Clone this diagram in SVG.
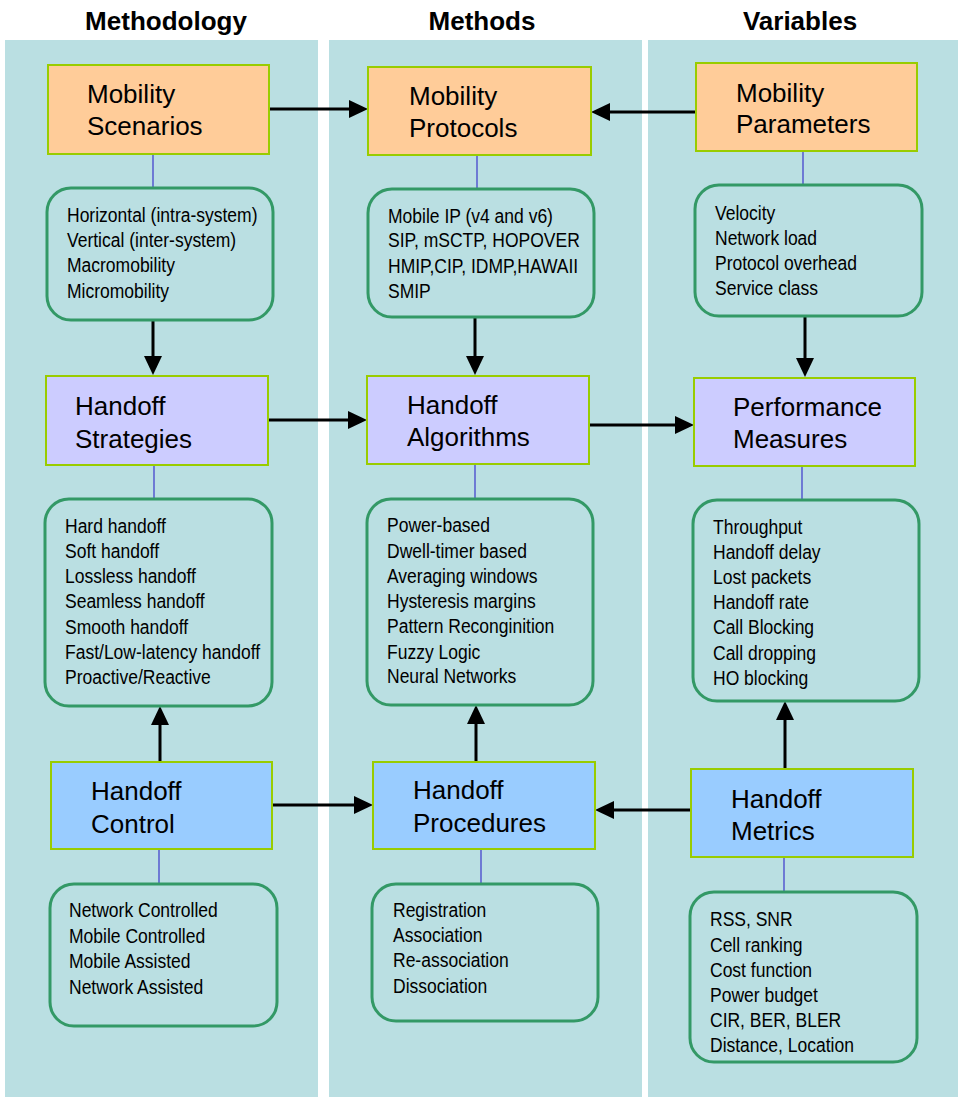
<svg xmlns="http://www.w3.org/2000/svg" width="958" height="1097" viewBox="0 0 958 1097">
  <style>
    .col { fill: #BADFE2; }
    .hdr { font-family: "Liberation Sans", Arial, sans-serif; font-weight: bold; font-size: 26px; text-anchor: middle; fill: #000; }
    .box { stroke: #99CC00; stroke-width: 2; }
    .peach { fill: #FFCC99; }
    .lav { fill: #CCCCFF; }
    .sky { fill: #99CCFF; }
    .title { font-family: "Liberation Sans", Arial, sans-serif; font-size: 26px; fill: #000; }
    .list { fill: none; stroke: #339966; stroke-width: 3; }
    .item { font-family: "Liberation Sans", Arial, sans-serif; font-size: 20px; fill: #000; }
    .tie { stroke: #4444CC; stroke-width: 1.3; fill: none; }
    .arrow { stroke: #000; stroke-width: 3; fill: none; marker-end: url(#ah); }
  </style>
  <defs>
    <marker id="ah" markerUnits="userSpaceOnUse" markerWidth="20" markerHeight="20" refX="12" refY="9" orient="auto">
      <path d="M0,0 L19,9 L0,18 z" fill="#000"/>
    </marker>
  </defs>

  <!-- column backgrounds -->
  <g id="columns">
    <rect class="col" x="5" y="40" width="313" height="1057"/>
    <rect class="col" x="329" y="40" width="313" height="1057"/>
    <rect class="col" x="648" y="40" width="310" height="1057"/>
  </g>

  <!-- column headings -->
  <g id="headings">
    <text class="hdr" x="166" y="30">Methodology</text>
    <text class="hdr" x="482" y="30">Methods</text>
    <text class="hdr" x="800" y="30">Variables</text>
  </g>

  <!-- connectors -->
  <g id="connectors">
    <line class="tie" x1="153" y1="154" x2="153" y2="188"/>
    <line class="tie" x1="477" y1="155" x2="477" y2="189"/>
    <line class="tie" x1="803" y1="151" x2="803" y2="185"/>
    <line class="tie" x1="154" y1="465" x2="154" y2="499"/>
    <line class="tie" x1="475" y1="464" x2="475" y2="499"/>
    <line class="tie" x1="802" y1="466" x2="802" y2="500"/>
    <line class="tie" x1="159" y1="849" x2="159" y2="884"/>
    <line class="tie" x1="481" y1="849" x2="481" y2="884"/>
    <line class="tie" x1="784" y1="857" x2="784" y2="892"/>

    <line class="arrow" x1="269" y1="109" x2="361" y2="109"/>
    <line class="arrow" x1="696" y1="112" x2="598" y2="112"/>
    <line class="arrow" x1="268" y1="420" x2="360" y2="420"/>
    <line class="arrow" x1="589" y1="425" x2="687" y2="425"/>
    <line class="arrow" x1="272" y1="805" x2="366" y2="805"/>
    <line class="arrow" x1="691" y1="810" x2="602" y2="810"/>

    <line class="arrow" x1="153" y1="320" x2="153" y2="368"/>
    <line class="arrow" x1="475" y1="317" x2="475" y2="368"/>
    <line class="arrow" x1="805" y1="316" x2="805" y2="370"/>
    <line class="arrow" x1="160" y1="762" x2="160" y2="713"/>
    <line class="arrow" x1="476" y1="762" x2="476" y2="712"/>
    <line class="arrow" x1="785" y1="769" x2="785" y2="708"/>
  </g>

  <!-- Methodology column -->
  <g id="mobility-scenarios">
    <rect class="box peach" x="48" y="65" width="221" height="89"/>
    <text class="title"><tspan x="87" y="103">Mobility</tspan><tspan x="87" y="135">Scenarios</tspan></text>
  </g>
  <g id="scenarios-list">
    <rect class="list" x="47" y="188" width="226" height="132" rx="24"/>
    <g transform="translate(67 0) scale(0.875 1)">
      <text class="item"><tspan x="0" y="222">Horizontal (intra-system)</tspan><tspan x="0" y="247">Vertical (inter-system)</tspan><tspan x="0" y="272">Macromobility</tspan><tspan x="0" y="298">Micromobility</tspan></text>
    </g>
  </g>
  <g id="handoff-strategies">
    <rect class="box lav" x="46" y="376" width="222" height="89"/>
    <text class="title"><tspan x="75" y="415">Handoff</tspan><tspan x="75" y="448">Strategies</tspan></text>
  </g>
  <g id="strategies-list">
    <rect class="list" x="45" y="499" width="227" height="207" rx="24"/>
    <g transform="translate(65 0) scale(0.875 1)">
      <text class="item"><tspan x="0" y="533">Hard handoff</tspan><tspan x="0" y="558">Soft handoff</tspan><tspan x="0" y="583">Lossless handoff</tspan><tspan x="0" y="608">Seamless handoff</tspan><tspan x="0" y="634">Smooth handoff</tspan><tspan x="0" y="659">Fast/Low-latency handoff</tspan><tspan x="0" y="684">Proactive/Reactive</tspan></text>
    </g>
  </g>
  <g id="handoff-control">
    <rect class="box sky" x="51" y="762" width="221" height="87"/>
    <text class="title"><tspan x="91" y="800">Handoff</tspan><tspan x="91" y="833">Control</tspan></text>
  </g>
  <g id="control-list">
    <rect class="list" x="50" y="884" width="227" height="142" rx="24"/>
    <g transform="translate(69 0) scale(0.875 1)">
      <text class="item"><tspan x="0" y="917">Network Controlled</tspan><tspan x="0" y="943">Mobile Controlled</tspan><tspan x="0" y="968">Mobile Assisted</tspan><tspan x="0" y="994">Network Assisted</tspan></text>
    </g>
  </g>

  <!-- Methods column -->
  <g id="mobility-protocols">
    <rect class="box peach" x="368" y="67" width="223" height="88"/>
    <text class="title"><tspan x="409" y="105">Mobility</tspan><tspan x="409" y="137">Protocols</tspan></text>
  </g>
  <g id="protocols-list">
    <rect class="list" x="368" y="189" width="226" height="128" rx="24"/>
    <g transform="translate(388 0) scale(0.875 1)">
      <text class="item"><tspan x="0" y="223">Mobile IP (v4 and v6)</tspan><tspan x="0" y="247">SIP, mSCTP, HOPOVER</tspan><tspan x="0" y="273">HMIP,CIP, IDMP,HAWAII</tspan><tspan x="0" y="298">SMIP</tspan></text>
    </g>
  </g>
  <g id="handoff-algorithms">
    <rect class="box lav" x="367" y="376" width="222" height="88"/>
    <text class="title"><tspan x="407" y="414">Handoff</tspan><tspan x="407" y="446">Algorithms</tspan></text>
  </g>
  <g id="algorithms-list">
    <rect class="list" x="367" y="499" width="226" height="206" rx="24"/>
    <g transform="translate(387 0) scale(0.875 1)">
      <text class="item"><tspan x="0" y="532">Power-based</tspan><tspan x="0" y="558">Dwell-timer based</tspan><tspan x="0" y="583">Averaging windows</tspan><tspan x="0" y="608">Hysteresis margins</tspan><tspan x="0" y="633">Pattern Reconginition</tspan><tspan x="0" y="659">Fuzzy Logic</tspan><tspan x="0" y="683">Neural Networks</tspan></text>
    </g>
  </g>
  <g id="handoff-procedures">
    <rect class="box sky" x="373" y="762" width="222" height="87"/>
    <text class="title"><tspan x="413" y="799">Handoff</tspan><tspan x="413" y="832">Procedures</tspan></text>
  </g>
  <g id="procedures-list">
    <rect class="list" x="372" y="884" width="226" height="137" rx="24"/>
    <g transform="translate(393 0) scale(0.875 1)">
      <text class="item"><tspan x="0" y="917">Registration</tspan><tspan x="0" y="942">Association</tspan><tspan x="0" y="967">Re-association</tspan><tspan x="0" y="993">Dissociation</tspan></text>
    </g>
  </g>

  <!-- Variables column -->
  <g id="mobility-parameters">
    <rect class="box peach" x="696" y="63" width="221" height="88"/>
    <text class="title"><tspan x="736" y="102">Mobility</tspan><tspan x="736" y="133">Parameters</tspan></text>
  </g>
  <g id="parameters-list">
    <rect class="list" x="695" y="185" width="227" height="131" rx="24"/>
    <g transform="translate(715 0) scale(0.875 1)">
      <text class="item"><tspan x="0" y="220">Velocity</tspan><tspan x="0" y="245">Network load</tspan><tspan x="0" y="270">Protocol overhead</tspan><tspan x="0" y="295">Service class</tspan></text>
    </g>
  </g>
  <g id="performance-measures">
    <rect class="box lav" x="694" y="378" width="221" height="88"/>
    <text class="title"><tspan x="733" y="416">Performance</tspan><tspan x="733" y="448">Measures</tspan></text>
  </g>
  <g id="measures-list">
    <rect class="list" x="693" y="500" width="226" height="201" rx="24"/>
    <g transform="translate(713 0) scale(0.875 1)">
      <text class="item"><tspan x="0" y="534">Throughput</tspan><tspan x="0" y="559">Handoff delay</tspan><tspan x="0" y="584">Lost packets</tspan><tspan x="0" y="609">Handoff rate</tspan><tspan x="0" y="634">Call Blocking</tspan><tspan x="0" y="660">Call dropping</tspan><tspan x="0" y="685">HO blocking</tspan></text>
    </g>
  </g>
  <g id="handoff-metrics">
    <rect class="box sky" x="691" y="769" width="222" height="88"/>
    <text class="title"><tspan x="731" y="808">Handoff</tspan><tspan x="731" y="840">Metrics</tspan></text>
  </g>
  <g id="metrics-list">
    <rect class="list" x="690" y="892" width="227" height="170" rx="24"/>
    <g transform="translate(710 0) scale(0.875 1)">
      <text class="item"><tspan x="0" y="926">RSS, SNR</tspan><tspan x="0" y="952">Cell ranking</tspan><tspan x="0" y="977">Cost function</tspan><tspan x="0" y="1002">Power budget</tspan><tspan x="0" y="1027">CIR, BER, BLER</tspan><tspan x="0" y="1052">Distance, Location</tspan></text>
    </g>
  </g>
</svg>
